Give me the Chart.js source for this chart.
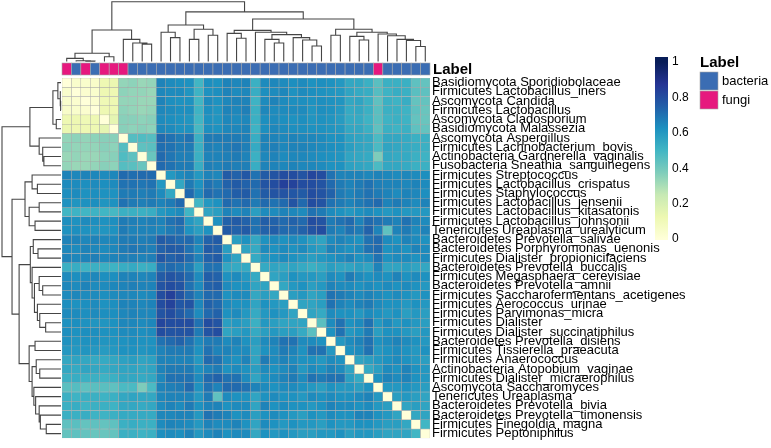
<!DOCTYPE html>
<html><head><meta charset="utf-8">
<script src="https://cdn.jsdelivr.net/npm/chart.js@4.4.0/dist/chart.umd.min.js"></script>
<style>html,body{margin:0;padding:0;background:#fff}#wrap{width:771px;height:448px;position:relative}</style>
</head><body><div id="wrap"><canvas id="c" width="771" height="448"></canvas></div>
<script>
const taxa = [
"Basidiomycota Sporidiobolaceae","Firmicutes Lactobacillus_iners","Ascomycota Candida","Firmicutes Lactobacillus",
"Ascomycota Cladosporium","Basidiomycota Malassezia","Ascomycota Aspergillus","Firmicutes Lachnobacterium_bovis",
"Actinobacteria Gardnerella_vaginalis","Fusobacteria Sneathia_sanguinegens","Firmicutes Streptococcus",
"Firmicutes Lactobacillus_crispatus","Firmicutes Staphylococcus","Firmicutes Lactobacillus_jensenii",
"Firmicutes Lactobacillus_kitasatonis","Firmicutes Lactobacillus_johnsonii","Tenericutes Ureaplasma_urealyticum",
"Bacteroidetes Prevotella_salivae","Bacteroidetes Porphyromonas_uenonis","Firmicutes Dialister_propionicifaciens",
"Bacteroidetes Prevotella_buccalis","Firmicutes Megasphaera_cerevisiae","Bacteroidetes Prevotella_amnii",
"Firmicutes Saccharofermentans_acetigenes","Firmicutes Aerococcus_urinae","Firmicutes Parvimonas_micra",
"Firmicutes Dialister","Firmicutes Dialister_succinatiphilus","Bacteroidetes Prevotella_disiens",
"Firmicutes Tissierella_praeacuta","Firmicutes Anaerococcus","Actinobacteria Atopobium_vaginae",
"Firmicutes Dialister_micraerophilus","Ascomycota Saccharomyces","Tenericutes Ureaplasma",
"Bacteroidetes Prevotella_bivia","Bacteroidetes Prevotella_timonensis","Firmicutes Finegoldia_magna",
"Firmicutes Peptoniphilus"];
const labelGroup = ["fungi","bacteria","fungi","bacteria","fungi","fungi","fungi","bacteria","bacteria","bacteria",
"bacteria","bacteria","bacteria","bacteria","bacteria","bacteria","bacteria","bacteria","bacteria","bacteria",
"bacteria","bacteria","bacteria","bacteria","bacteria","bacteria","bacteria","bacteria","bacteria","bacteria",
"bacteria","bacteria","bacteria","fungi","bacteria","bacteria","bacteria","bacteria","bacteria"];
const groupNames = ["bacteria","fungi"];
const groupColors = ["#3B6DB3","#E6187E"];
const legendTicks = [0,0.2,0.4,0.6,0.8,1];
const rampStops = ["#ffffd9","#edf8b1","#c7e9b4","#7fcdbb","#41b6c4","#1d91c0","#225ea8","#253494","#081d58"];
const values = [
[0,.04,.04,.05,.12,.13,.34,.35,.33,.34,.66,.64,.63,.62,.50,.63,.62,.66,.65,.66,.52,.64,.65,.64,.63,.64,.62,.63,.62,.60,.55,.55,.52,.45,.52,.52,.52,.44,.43],
[.04,0,.03,.04,.12,.12,.35,.34,.34,.33,.65,.64,.64,.61,.51,.62,.63,.66,.64,.65,.53,.63,.64,.65,.62,.64,.63,.62,.61,.60,.56,.54,.53,.46,.51,.53,.52,.45,.44],
[.04,.03,0,.03,.11,.12,.34,.34,.33,.33,.66,.63,.62,.62,.50,.64,.62,.65,.66,.66,.51,.64,.66,.64,.63,.63,.62,.63,.62,.61,.55,.56,.52,.44,.52,.51,.53,.43,.43],
[.05,.04,.03,0,.12,.12,.35,.34,.33,.34,.65,.64,.63,.63,.51,.63,.61,.66,.65,.67,.52,.65,.64,.64,.64,.64,.61,.63,.62,.60,.54,.55,.52,.45,.52,.52,.51,.44,.42],
[.12,.12,.11,.12,0,.15,.36,.36,.35,.36,.64,.63,.62,.61,.50,.62,.61,.65,.64,.65,.52,.63,.64,.63,.62,.63,.61,.62,.61,.59,.54,.54,.51,.45,.51,.52,.51,.43,.42],
[.13,.12,.12,.12,.15,0,.36,.35,.36,.35,.65,.64,.62,.62,.49,.63,.62,.65,.65,.66,.51,.63,.65,.64,.63,.63,.62,.62,.61,.60,.55,.55,.52,.44,.52,.51,.52,.44,.43],
[.34,.35,.34,.35,.36,.36,0,.46,.47,.46,.72,.70,.68,.70,.52,.68,.68,.68,.68,.67,.53,.66,.66,.65,.66,.65,.65,.64,.62,.62,.57,.56,.55,.48,.55,.55,.54,.52,.52],
[.35,.34,.34,.34,.36,.35,.46,0,.44,.45,.71,.70,.68,.68,.52,.67,.66,.68,.69,.67,.54,.66,.67,.65,.66,.66,.65,.64,.63,.62,.58,.56,.55,.48,.56,.55,.54,.53,.52],
[.33,.34,.33,.33,.35,.36,.47,.44,0,.42,.72,.69,.67,.67,.52,.66,.66,.67,.68,.66,.52,.65,.66,.64,.65,.65,.64,.63,.62,.61,.56,.55,.54,.38,.55,.54,.54,.52,.51],
[.34,.33,.33,.34,.36,.35,.46,.45,.42,0,.72,.70,.68,.68,.53,.67,.66,.68,.67,.67,.53,.66,.66,.65,.66,.65,.65,.64,.62,.62,.57,.56,.55,.48,.55,.55,.54,.52,.52],
[.66,.65,.66,.65,.64,.65,.72,.71,.72,.72,0,.60,.64,.66,.60,.66,.65,.76,.74,.77,.70,.76,.78,.80,.80,.78,.82,.80,.70,.66,.66,.66,.65,.66,.65,.64,.65,.64,.63],
[.64,.64,.63,.64,.63,.64,.70,.70,.69,.70,.60,0,.55,.68,.62,.70,.68,.74,.76,.74,.72,.78,.80,.84,.83,.80,.80,.78,.72,.68,.66,.68,.70,.67,.66,.66,.65,.66,.64],
[.63,.64,.62,.63,.62,.62,.68,.68,.67,.68,.64,.55,0,.72,.64,.72,.70,.72,.75,.76,.70,.76,.78,.78,.77,.76,.80,.78,.74,.68,.66,.68,.70,.68,.66,.64,.66,.65,.63],
[.62,.61,.62,.63,.61,.62,.70,.68,.67,.68,.66,.68,.72,0,.50,.60,.62,.72,.70,.72,.68,.72,.70,.72,.78,.72,.80,.78,.70,.68,.66,.68,.70,.72,.66,.68,.66,.64,.66],
[.50,.51,.50,.51,.50,.49,.52,.52,.52,.53,.60,.62,.64,.50,0,.56,.58,.66,.64,.66,.58,.64,.64,.66,.65,.64,.70,.68,.64,.62,.60,.62,.64,.62,.60,.62,.60,.60,.60],
[.63,.62,.64,.63,.62,.63,.68,.67,.66,.67,.66,.70,.72,.60,.56,0,.62,.74,.76,.74,.70,.75,.74,.72,.74,.72,.80,.78,.68,.70,.72,.66,.72,.70,.68,.66,.70,.66,.64],
[.62,.63,.62,.61,.61,.62,.68,.66,.66,.66,.65,.68,.70,.62,.58,.62,0,.76,.74,.76,.70,.74,.75,.72,.72,.74,.78,.80,.68,.66,.70,.68,.74,.66,.44,.66,.68,.64,.66],
[.66,.66,.65,.66,.65,.65,.68,.68,.67,.68,.76,.74,.72,.72,.66,.74,.76,0,.58,.62,.55,.62,.64,.62,.64,.62,.58,.56,.64,.66,.64,.62,.70,.72,.64,.62,.66,.64,.62],
[.65,.64,.66,.65,.64,.65,.68,.69,.68,.67,.74,.76,.75,.70,.64,.76,.74,.58,0,.56,.54,.64,.62,.64,.62,.64,.60,.58,.66,.64,.62,.64,.70,.72,.62,.64,.62,.66,.64],
[.66,.65,.66,.67,.65,.66,.67,.67,.66,.67,.77,.74,.76,.72,.66,.74,.76,.62,.56,0,.54,.60,.62,.64,.62,.60,.58,.60,.62,.64,.66,.62,.64,.70,.62,.64,.64,.62,.64],
[.52,.53,.51,.52,.52,.51,.53,.54,.52,.53,.70,.72,.70,.68,.58,.70,.70,.55,.54,.54,0,.54,.56,.55,.56,.54,.52,.54,.58,.56,.56,.58,.56,.66,.56,.56,.58,.56,.55],
[.64,.63,.64,.65,.63,.63,.66,.66,.65,.66,.76,.78,.76,.72,.64,.75,.74,.62,.64,.60,.54,0,.56,.58,.62,.60,.60,.58,.64,.62,.68,.64,.62,.64,.62,.66,.62,.64,.62],
[.65,.64,.66,.64,.64,.65,.66,.67,.66,.66,.78,.80,.78,.70,.64,.74,.75,.64,.62,.62,.56,.56,0,.55,.60,.62,.58,.60,.66,.64,.64,.62,.64,.62,.64,.62,.64,.62,.60],
[.64,.65,.64,.64,.63,.64,.65,.65,.64,.65,.80,.84,.78,.72,.66,.72,.72,.62,.64,.64,.55,.58,.55,0,.58,.60,.56,.58,.70,.68,.66,.64,.66,.64,.62,.64,.62,.60,.62],
[.63,.62,.63,.64,.62,.63,.66,.66,.65,.66,.80,.83,.77,.78,.65,.74,.72,.64,.62,.62,.56,.62,.60,.58,0,.56,.56,.58,.70,.66,.64,.66,.68,.64,.62,.62,.60,.62,.60],
[.64,.64,.63,.64,.63,.63,.65,.66,.65,.65,.78,.80,.76,.72,.64,.72,.74,.62,.64,.60,.54,.60,.62,.60,.56,0,.56,.54,.64,.62,.62,.60,.64,.62,.60,.62,.58,.60,.58],
[.62,.63,.62,.61,.61,.62,.65,.65,.64,.65,.82,.80,.80,.80,.70,.80,.78,.58,.60,.58,.52,.60,.58,.56,.56,.56,0,.45,.64,.70,.62,.64,.70,.60,.64,.60,.62,.60,.58],
[.63,.62,.63,.63,.62,.62,.64,.64,.63,.64,.80,.78,.78,.78,.68,.78,.80,.56,.58,.60,.54,.58,.60,.58,.58,.54,.45,0,.62,.70,.60,.62,.68,.58,.62,.62,.60,.58,.60],
[.62,.61,.62,.62,.61,.61,.62,.63,.62,.62,.70,.72,.74,.70,.64,.68,.68,.64,.66,.62,.58,.64,.66,.70,.70,.64,.64,.62,0,.60,.64,.66,.70,.62,.64,.66,.64,.62,.60],
[.60,.60,.61,.60,.59,.60,.62,.62,.61,.62,.66,.68,.68,.68,.62,.70,.66,.66,.64,.64,.56,.62,.64,.68,.66,.62,.70,.70,.60,0,.62,.64,.70,.60,.62,.64,.62,.60,.62],
[.55,.56,.55,.54,.54,.55,.57,.58,.56,.57,.66,.66,.66,.66,.60,.72,.70,.64,.62,.66,.56,.68,.64,.66,.64,.62,.62,.60,.64,.62,0,.56,.58,.60,.62,.64,.62,.60,.58],
[.55,.54,.56,.55,.54,.55,.56,.56,.55,.56,.66,.68,.68,.68,.62,.66,.68,.62,.64,.62,.58,.64,.62,.64,.66,.60,.64,.62,.66,.64,.56,0,.54,.58,.64,.62,.66,.62,.60],
[.52,.53,.52,.52,.51,.52,.55,.55,.54,.55,.65,.70,.70,.70,.64,.72,.74,.70,.70,.64,.56,.62,.64,.66,.68,.64,.70,.68,.70,.70,.58,.54,0,.62,.66,.64,.66,.62,.60],
[.45,.46,.44,.45,.45,.44,.48,.48,.38,.48,.66,.67,.68,.72,.62,.70,.66,.72,.72,.70,.66,.64,.62,.64,.64,.62,.60,.58,.62,.60,.60,.58,.62,0,.60,.60,.62,.60,.58],
[.52,.51,.52,.52,.51,.52,.55,.56,.55,.55,.65,.66,.66,.66,.60,.68,.44,.64,.62,.62,.56,.62,.64,.62,.62,.60,.64,.62,.64,.62,.62,.64,.66,.60,0,.58,.60,.58,.56],
[.52,.53,.51,.52,.52,.51,.55,.55,.54,.55,.64,.66,.64,.68,.62,.66,.66,.62,.64,.64,.56,.66,.62,.64,.62,.62,.60,.62,.66,.64,.64,.62,.64,.60,.58,0,.56,.58,.56],
[.52,.52,.53,.51,.51,.52,.54,.54,.54,.54,.65,.65,.66,.66,.60,.70,.68,.66,.62,.64,.58,.62,.64,.62,.60,.58,.62,.60,.64,.62,.62,.66,.66,.62,.60,.56,0,.55,.56],
[.44,.45,.43,.44,.43,.44,.52,.53,.52,.52,.64,.66,.65,.64,.60,.66,.64,.64,.66,.62,.56,.64,.62,.60,.62,.60,.60,.58,.62,.60,.60,.62,.62,.60,.58,.58,.55,0,.50],
[.43,.44,.43,.42,.42,.43,.52,.52,.51,.52,.63,.64,.63,.66,.60,.64,.66,.62,.64,.64,.55,.62,.60,.62,.60,.58,.58,.60,.60,.62,.58,.60,.60,.58,.56,.56,.56,.50,0]
];
// hierarchical clustering tree: [mergeHeight (0..1 of root), left, right]; leaves are 1-based row numbers
const tree = [1.0,
  [0.527,
    [0.137, [0.053, 1, [0.012, 2, [0.006, 3, 4]]], [0.08, 5, 6]],
    [0.37, 7, [0.31, 8, [0.29, 9, 10]]]],
  [0.83,
    [0.61, [0.49, 11, [0.40, 12, 13]], [0.54, [0.37, 14, 15], [0.44, 16, 17]]],
    [0.71,
      [0.52, [0.47, 18, [0.39, 19, 20]], [0.49, 21, [0.45, [0.37, 22, [0.31, 23, 24]], [0.40, 25, [0.36, 26, [0.26, 27, 28]]]]]],
      [0.54, [0.44, 29, 30], [0.49, [0.42, 31, [0.36, 32, 33]], [0.46, 34, [0.43, 35, [0.37, 36, [0.35, 37, [0.25, 38, 39]]]]]]]]]];

function hexRgb(h){return [parseInt(h.slice(1,3),16),parseInt(h.slice(3,5),16),parseInt(h.slice(5,7),16)];}
function colorFor(v){
  const n = rampStops.length-1;
  const t = Math.max(0,Math.min(1,v))*n;
  const i = Math.min(n-1,Math.floor(t)), f = t-i;
  const a = hexRgb(rampStops[i]), b = hexRgb(rampStops[i+1]);
  return 'rgb('+a.map((x,k)=>Math.round(x+(b[k]-x)*f)).join(',')+')';
}
const FONT = '"Liberation Sans", Arial, Helvetica, sans-serif';

const datasets = values.map((row,i)=>({
  label: taxa[i],
  data: row.map(()=>1),
  backgroundColor: row.map(v=>colorFor(v)),
  borderColor: '#a8a8a8',
  borderWidth: 0.5,
  borderSkipped: false,
  barPercentage: 1,
  categoryPercentage: 1,
  stack: 'rows',
  yAxisID: 'y'
}));

const decor = {
  id: 'decor',
  afterDraw(chart){
    const ctx = chart.ctx, xs = chart.scales.x, ys = chart.scales.y, ca = chart.chartArea;
    const n = taxa.length, colW = ca.width/n;
    ctx.save();
    const annTop = 63, annH = 12;
    for(let j=0;j<n;j++){
      const cx = xs.getPixelForValue(j);
      ctx.fillStyle = groupColors[groupNames.indexOf(labelGroup[j])];
      ctx.fillRect(cx-colW/2, annTop, colW, annH);
      ctx.strokeStyle = '#a8a8a8'; ctx.lineWidth = 0.6;
      ctx.strokeRect(cx-colW/2, annTop, colW, annH);
    }
    ctx.fillStyle = '#000'; ctx.font = 'bold 15px '+FONT; ctx.textBaseline = 'middle'; ctx.textAlign = 'left';
    ctx.fillText('Label', ca.right+3, annTop+annH/2+1);
    ctx.strokeStyle = '#454545'; ctx.lineWidth = 1.1;
    const topBase = 61.5, topRoot = 1.7, leftBase = 61, leftRoot = 2;
    function walk(node, posOf, draw){
      if (typeof node === 'number') return {p: posOf(node-1), h: 0};
      const a = walk(node[1], posOf, draw), b = walk(node[2], posOf, draw);
      draw(a, b, node[0]);
      return {p: (a.p+b.p)/2, h: node[0]};
    }
    ctx.beginPath();
    walk(tree, j=>xs.getPixelForValue(j), (a,b,h)=>{
      const y = topBase - h*(topBase-topRoot), ya = topBase - a.h*(topBase-topRoot), yb = topBase - b.h*(topBase-topRoot);
      ctx.moveTo(a.p, ya); ctx.lineTo(a.p, y); ctx.lineTo(b.p, y); ctx.lineTo(b.p, yb);
    });
    walk(tree, i=>ys.getPixelForValue(i+0.5), (a,b,h)=>{
      const x = leftBase - h*(leftBase-leftRoot), xa = leftBase - a.h*(leftBase-leftRoot), xb = leftBase - b.h*(leftBase-leftRoot);
      ctx.moveTo(xa, a.p); ctx.lineTo(x, a.p); ctx.lineTo(x, b.p); ctx.lineTo(xb, b.p);
    });
    ctx.stroke();
    const barX = 655, barW = 13, barTop = 57, barBot = 240, v0y = 239, v1y = 62;
    const grad = ctx.createLinearGradient(0, v0y, 0, v1y);
    rampStops.forEach((c,k)=>grad.addColorStop(k/(rampStops.length-1), c));
    ctx.fillStyle = rampStops[rampStops.length-1]; ctx.fillRect(barX, barTop, barW, v1y-barTop);
    ctx.fillStyle = grad; ctx.fillRect(barX, v1y, barW, v0y-v1y);
    ctx.fillStyle = rampStops[0]; ctx.fillRect(barX, v0y, barW, barBot-v0y);
    ctx.fillStyle = '#000'; ctx.font = '12px '+FONT; ctx.textBaseline = 'middle';
    legendTicks.forEach(t=>{ ctx.fillText(String(t), barX+barW+4, v0y - t*(v0y-v1y)); });
    ctx.font = 'bold 15px '+FONT; ctx.textBaseline = 'alphabetic';
    ctx.fillText('Label', 700, 67);
    ctx.font = '13px '+FONT; ctx.textBaseline = 'middle';
    groupNames.forEach((g,k)=>{
      const y = 72 + k*19;
      ctx.fillStyle = groupColors[k]; ctx.fillRect(700, y, 18, 18);
      ctx.strokeStyle = '#a8a8a8'; ctx.lineWidth = 0.6; ctx.strokeRect(700, y, 18, 18);
      ctx.fillStyle = '#000'; ctx.fillText(g, 722, y+9.5);
    });
    ctx.restore();
  }
};

new Chart(document.getElementById('c'), {
  type: 'bar',
  data: { labels: taxa, datasets },
  options: {
    responsive: false, animation: false, devicePixelRatio: 1,
    layout: { padding: { left: 62, top: 78, bottom: 7, right: 0 } },
    plugins: { legend: { display: false }, tooltip: { enabled: false } },
    scales: {
      x: { type: 'category', display: false, stacked: true, offset: true },
      y: { type: 'linear', display: false, stacked: true, min: 0, max: taxa.length, reverse: true },
      rows: {
        type: 'category', labels: taxa, position: 'right', offset: true,
        grid: { display: false, drawTicks: false }, border: { display: false },
        ticks: { autoSkip: false, padding: 2, color: '#000', font: { family: FONT, size: 13 } },
        afterFit(s){ s.width = 341; }
      }
    }
  },
  plugins: [decor]
});
</script>
</body></html>
